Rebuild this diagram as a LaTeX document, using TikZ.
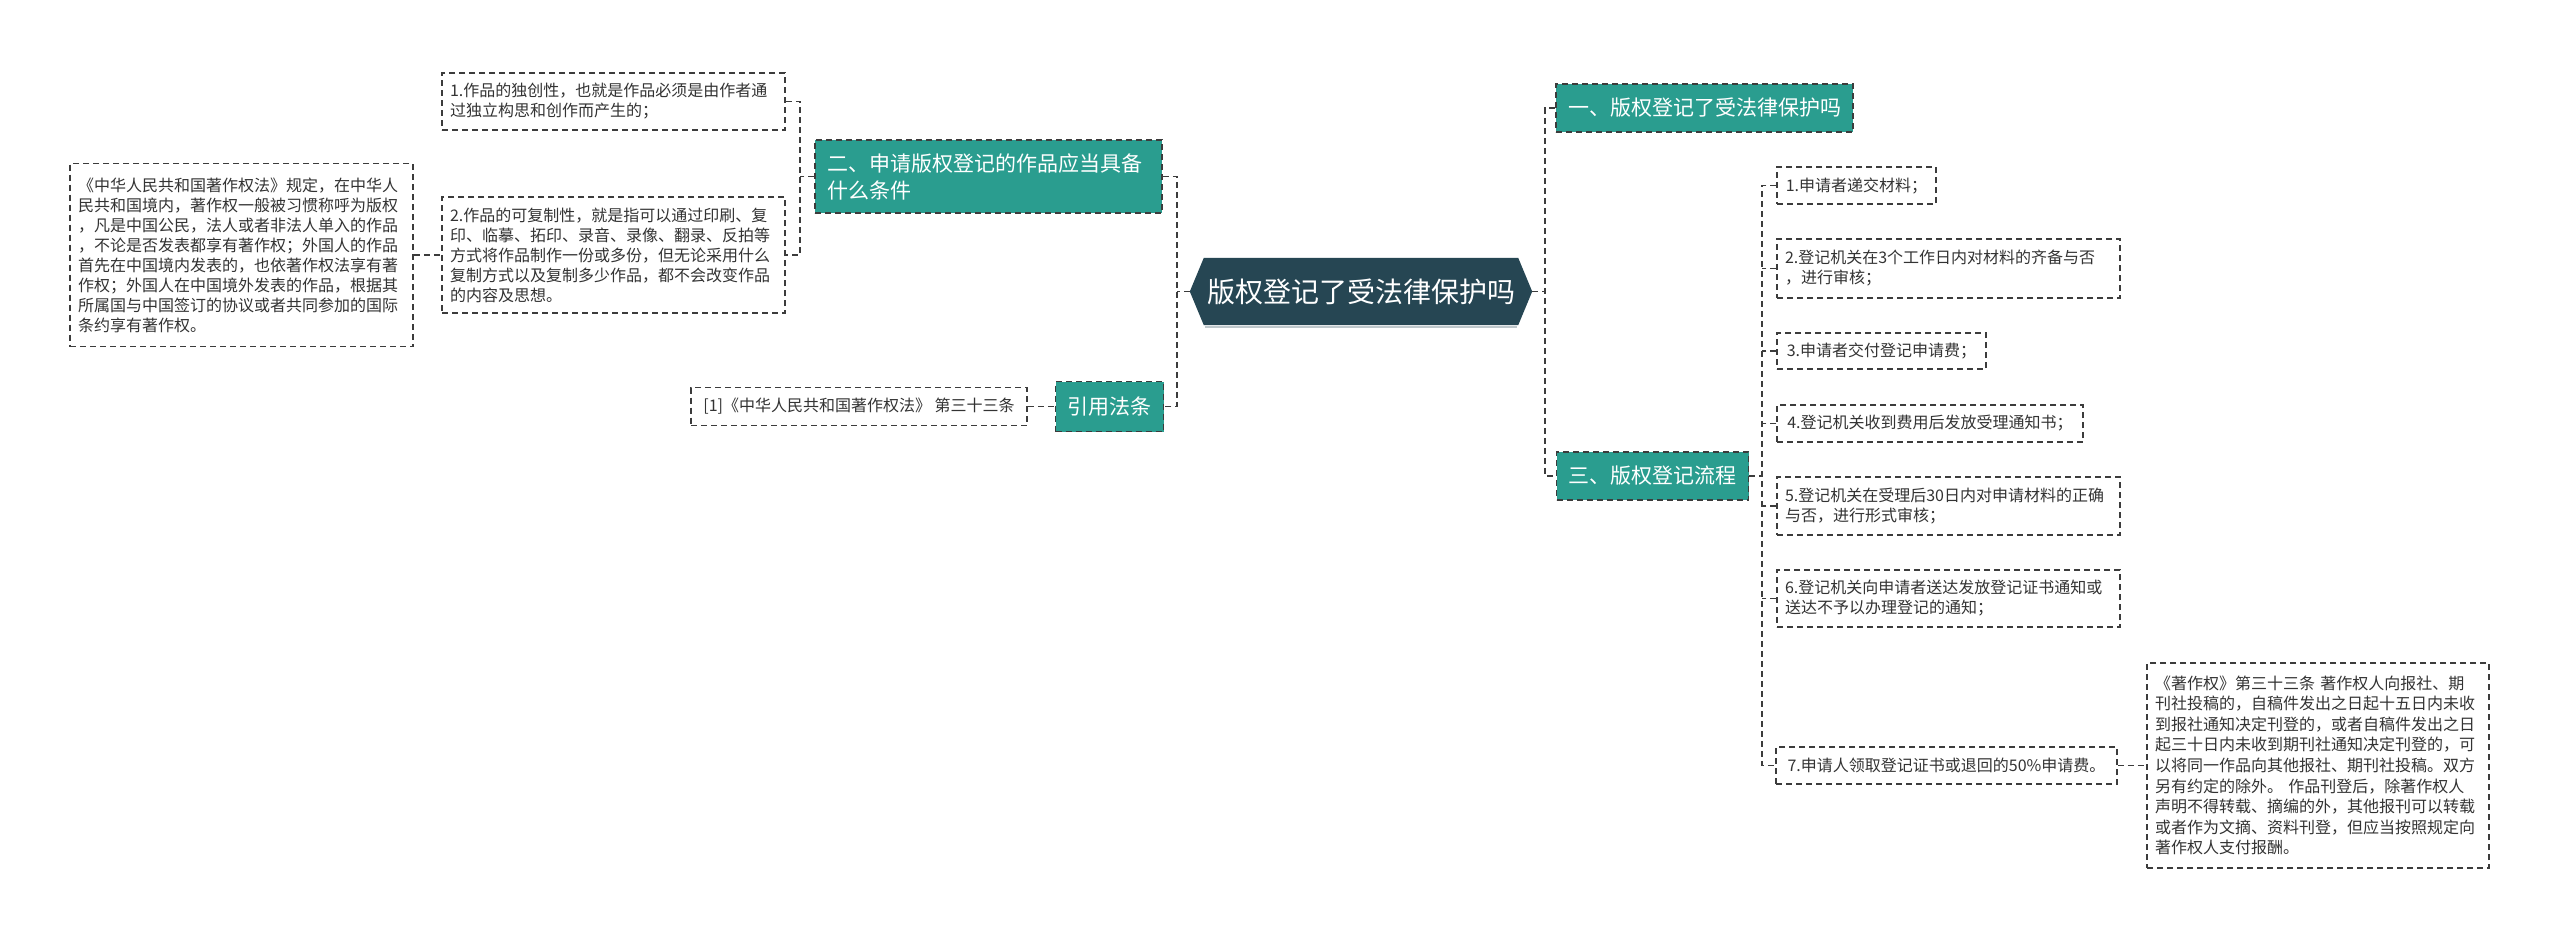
\documentclass[tikz,border=0pt]{standalone}
\usepackage{fontspec}
\newfontfamily\cjk{Noto Sans CJK SC}
\usetikzlibrary{calc,backgrounds}
\definecolor{tealc}{HTML}{2A9D8F}
\definecolor{hexc}{HTML}{264653}
\definecolor{linec}{HTML}{3C3C3C}
\definecolor{txtc}{HTML}{333333}
\begin{document}
\begin{tikzpicture}[x=1pt,y=-1pt,
  conn/.style={draw=linec,line width=1.5pt,dash pattern=on 6pt off 4pt},
  box/.style={draw=linec,line width=1.5pt,dash pattern=on 6pt off 4pt,text=txtc,
    font=\cjk\fontsize{16}{20}\selectfont,align=left,inner xsep=8pt,inner ysep=0pt},
  tealbox/.style={draw=linec,fill=tealc,line width=1.5pt,dash pattern=on 6pt off 4pt,text=white,
    font=\cjk\fontsize{21}{27}\selectfont,align=left,inner xsep=12pt,inner ysep=0pt},
  hexbox/.style={draw=none,text=white,font=\cjk\fontsize{28}{34}\selectfont,inner sep=0pt}]
\useasboundingbox (0,0) rectangle (2560,938);

% central node
\node[hexbox,minimum width=342pt,minimum height=67pt] (hex) at (1361,291.5) {版权登记了受法律保护吗};

% left branch
\node[tealbox,minimum width=347pt,minimum height=73pt,text width=323pt] (n2) at (988.5,176.5)
  {二、申请版权登记的作品应当具备\\什么条件};
\node[tealbox,minimum width=105pt,minimum height=50pt,align=center] (quote) at (1109.5,406.5) {引用法条};

\node[box,minimum width=343pt,minimum height=57pt,text width=327pt] (b1) at (613.5,101.5)
  {1.作品的独创性，也就是作品必须是由作者通\\过独立构思和创作而产生的；};
\node[box,minimum width=343pt,minimum height=116pt,text width=327pt] (b2) at (613.5,255)
  {2.作品的可复制性，就是指可以通过印刷、复\\印、临摹、拓印、录音、录像、翻录、反拍等\\方式将作品制作一份或多份，但无论采用什么\\复制方式以及复制多少作品，都不会改变作品\\的内容及思想。};
\node[box,minimum width=343pt,minimum height=183pt,text width=327pt] (big) at (241.5,255)
  {《中华人民共和国著作权法》规定，在中华人\\民共和国境内，著作权一般被习惯称呼为版权\\，凡是中国公民，法人或者非法人单入的作品\\，不论是否发表都享有著作权；外国人的作品\\首先在中国境内发表的，也依著作权法享有著\\作权；外国人在中国境外发表的作品，根据其\\所属国与中国签订的协议或者共同参加的国际\\条约享有著作权。};
\node[box,minimum width=336pt,minimum height=38pt,align=center] (ref1) at (859,406.5)
  {[1]《中华人民共和国著作权法》 第三十三条};

% right branch
\node[tealbox,minimum width=293pt,minimum height=48pt,align=center] (n1) at (1704.5,108) {一、版权登记了受法律保护吗};
\node[tealbox,minimum width=189pt,minimum height=48pt,align=center] (n3) at (1652.5,476) {三、版权登记流程};

\node[box,minimum width=159pt,minimum height=37pt,align=center] (p1) at (1856.5,185.5) {1.申请者递交材料；};
\node[box,minimum width=343pt,minimum height=59pt,text width=327pt] (p2) at (1948.5,268.5)
  {2.登记机关在3个工作日内对材料的齐备与否\\，进行审核；};
\node[box,minimum width=209pt,minimum height=36pt,align=center] (p3) at (1881.5,351) {3.申请者交付登记申请费；};
\node[box,minimum width=306pt,minimum height=37pt,align=center] (p4) at (1930,423.5) {4.登记机关收到费用后发放受理通知书；};
\node[box,minimum width=343pt,minimum height=58pt,text width=327pt] (p5) at (1948.5,506)
  {5.登记机关在受理后30日内对申请材料的正确\\与否，进行形式审核；};
\node[box,minimum width=343pt,minimum height=57pt,text width=327pt] (p6) at (1948.5,598.5)
  {6.登记机关向申请者送达发放登记证书通知或\\送达不予以办理登记的通知；};
\node[box,minimum width=341pt,minimum height=37pt,align=center] (p7) at (1946.5,765.5) {7.申请人领取登记证书或退回的50\%申请费。};
\node[box,minimum width=342pt,minimum height=205pt,text width=326pt,font=\cjk\fontsize{16}{20.6}\selectfont] (law) at (2318,765.5)
  {《著作权》第三十三条 著作权人向报社、期\\刊社投稿的，自稿件发出之日起十五日内未收\\到报社通知决定刊登的，或者自稿件发出之日\\起三十日内未收到期刊社通知决定刊登的，可\\以将同一作品向其他报社、期刊社投稿。双方\\另有约定的除外。 作品刊登后，除著作权人\\声明不得转载、摘编的外，其他报刊可以转载\\或者作为文摘、资料刊登，但应当按照规定向\\著作权人支付报酬。};

% junctions
\coordinate (lj) at (1177,291.5);
\coordinate (rj) at (1545,291.5);
\coordinate (lj2) at (800,176.5);
\coordinate (pj) at (1762,476);

% connectors
\draw[conn] (hex.west) -- (lj);
\draw[conn] (n2.east) -| (lj) |- (quote.east);
\draw[conn] (hex.east) -- (rj);
\draw[conn] (n1.west) -| (rj) |- (n3.west);
\draw[conn] (n2.west) -- (lj2);
\draw[conn] (b1.east) -| (lj2) |- (b2.east);
\draw[conn] (big.east) -- (b2.west);
\draw[conn] (ref1.east) -- (quote.west);
\draw[conn] (n3.east) -- (pj);
\draw[conn] (p1.west) -| (pj) |- (p7.west);
\foreach \p in {p2,p3,p4,p5,p6} \draw[conn] (\p.west) -- (\p.west -| pj);
\draw[conn] (p7.east) -- (law.west);

\begin{scope}[on background layer]
  \fill[white] (0,0) rectangle (2560,938);
  \fill[hexc] (hex.west) -- ($(hex.north west)+(14,0)$) -- ($(hex.north east)+(-14,0)$)
    -- (hex.east) -- ($(hex.south east)+(-14,0)$) -- ($(hex.south west)+(14,0)$) -- cycle;
  \draw[hexc!30,line width=1.5pt] ($(hex.south west)+(15,2)$) -- ($(hex.south east)+(-15,2)$);
\end{scope}
\end{tikzpicture}
\end{document}
